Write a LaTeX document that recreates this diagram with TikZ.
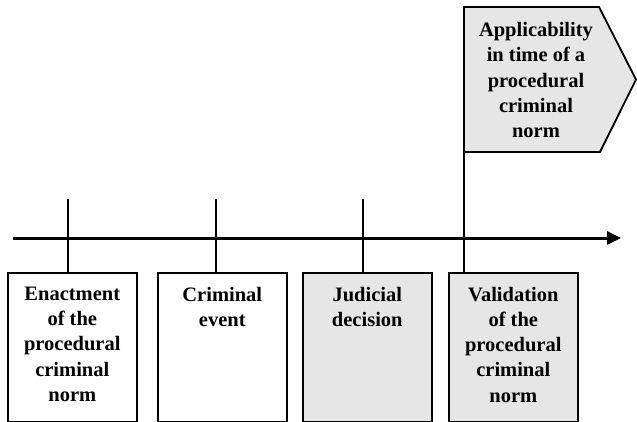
\documentclass[tikz,border=0pt]{standalone}
\usepackage{fontspec}
\setmainfont{Liberation Serif}
\usetikzlibrary{arrows.meta,calc}
\definecolor{boxgray}{RGB}{230,230,230}
\tikzset{
  evbox/.style={draw=black, line width=1.6pt, inner sep=0pt, anchor=north west},
  boxtxt/.style={font=\bfseries\fontsize{20.5}{25.3}\selectfont},
  tick/.style={line width=2pt},
  axisline/.style={line width=3pt, -{Triangle[length=14pt,width=13pt]}},
}
\newcommand{\bxt}[1]{\parbox[t][149pt][t]{129pt}{\centering\vspace*{14pt}#1}}
\begin{document}
\begin{tikzpicture}[x=1pt,y=-1pt]
\useasboundingbox (0,0) rectangle (637,422);
% boxes
\node[evbox, boxtxt, fill=white] (b1) at (7,272) {\bxt{Enactment\\of the\\procedural\\criminal\\norm}};
\node[evbox, boxtxt, fill=white] (b2) at (157,272) {\bxt{Criminal\\event}};
\node[evbox, boxtxt, fill=boxgray] (b3) at (302,272) {\bxt{Judicial\\decision}};
\node[evbox, boxtxt, fill=boxgray] (b4) at (448,272) {\bxt{Validation\\of the\\procedural\\criminal\\norm}};
% flag
\coordinate (f1) at (464,7);
\coordinate (f2) at (599,7);
\coordinate (f3) at (636,79.5);
\coordinate (f4) at (600,152);
\coordinate (f5) at (464,152);
\draw[line width=1.8pt, fill=boxgray, line join=miter] (f1) -- (f2) -- (f3) -- (f4) -- (f5) -- cycle;
\node[boxtxt, align=center, anchor=north, inner sep=0pt] (flagtxt) at (536,22) {Applicability\\in time of a\\procedural\\criminal\\norm};
% ticks
\coordinate (t1) at (68,199);
\coordinate (t2) at (216,199);
\coordinate (t3) at (363,199);
\draw[tick] (t1) -- (t1 |- b1.north);
\draw[tick] (t2) -- (t2 |- b2.north);
\draw[tick] (t3) -- (t3 |- b3.north);
\draw[tick] (f5) -- (f5 |- b4.north);
% axis
\coordinate (ax0) at (13,238);
\coordinate (ax1) at (621,238);
\draw[axisline] (ax0) -- (ax1);
\end{tikzpicture}
\end{document}
